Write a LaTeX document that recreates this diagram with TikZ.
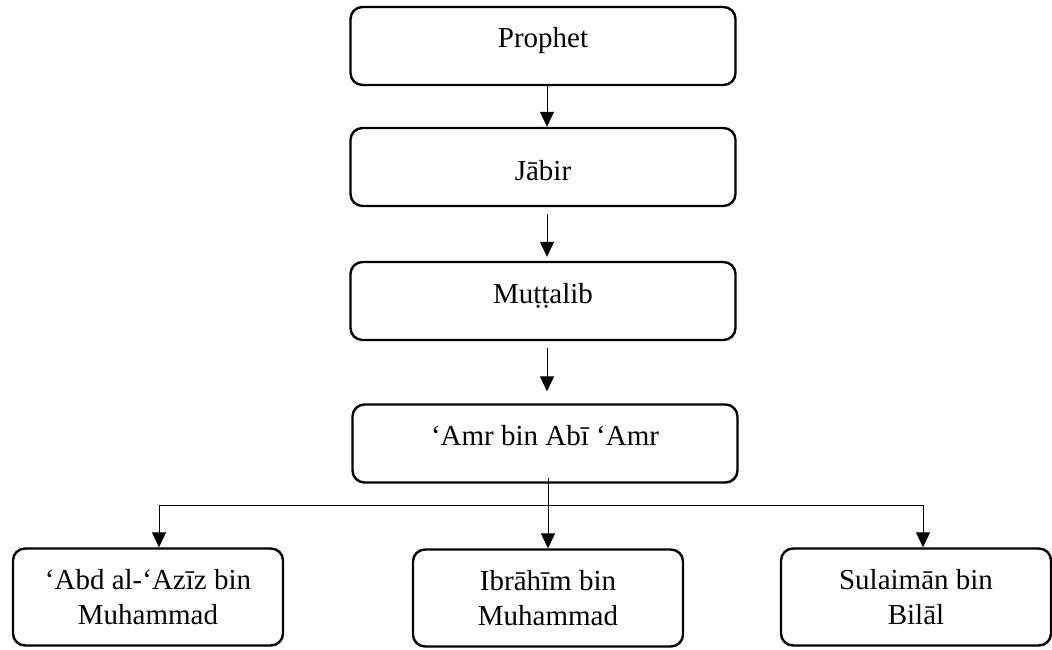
\documentclass[tikz,border=0pt]{standalone}
\usepackage{fontspec}
\setmainfont{Liberation Serif}
\usetikzlibrary{arrows.meta}
\begin{document}
\begin{tikzpicture}[x=1pt,y=-1pt,font=\fontsize{29}{35}\selectfont, line join=round, >={Triangle[length=15pt,width=14pt]}]
	\tikzset{box/.style={draw,line width=2.4pt,rounded corners=12pt,minimum width=385pt,minimum height=78pt,align=center,inner sep=0pt,text height=12pt,text depth=8pt},
		leaf/.style={draw,line width=2.4pt,rounded corners=12pt,minimum width=270pt,minimum height=97pt,align=center,inner sep=0pt},
		link/.style={->,line width=1pt}}
	\useasboundingbox (0,0) rectangle (1052,650);
	% chain
	\node[box] (prophet) at (543,46) {Prophet};
	\node[box,text height=26pt,text depth=0pt] (jabir) at (543,167) {Jābir};
	\node[box] (muttalib) at (543,301) {Muṭṭalib};
	\node[box] (amr) at (545,443.5) {‘Amr bin Abī ‘Amr};
	% students
	\node[leaf] (abd) at (148,597) {‘Abd al-‘Azīz bin\\Muhammad};
	\node[leaf] (ibrahim) at (548,598) {Ibrāhīm bin\\Muhammad};
	\node[leaf] (sulaiman) at (916,597) {Sulaimān bin\\Bilāl};
	\draw[link] (prophet.south -| 547,0) -- (jabir.north -| 547,0);
	\draw[link,shorten <=7pt,shorten >=4pt] (jabir.south -| 547,0) -- (muttalib.north -| 547,0);
	\draw[link,shorten <=7pt,shorten >=12pt] (muttalib.south -| 547,0) -- (amr.north -| 547,0);
	\coordinate (l) at (159,505);
	\coordinate (r) at (923,505);
	\draw[line width=1pt] (l) -- (r);
	\draw[link] (l) -- (l |- abd.north);
	\draw[link] (r) -- (r |- sulaiman.north);
	\draw[link] ([yshift=6pt]amr.south -| ibrahim.north) -- (ibrahim.north);
\end{tikzpicture}
\end{document}
